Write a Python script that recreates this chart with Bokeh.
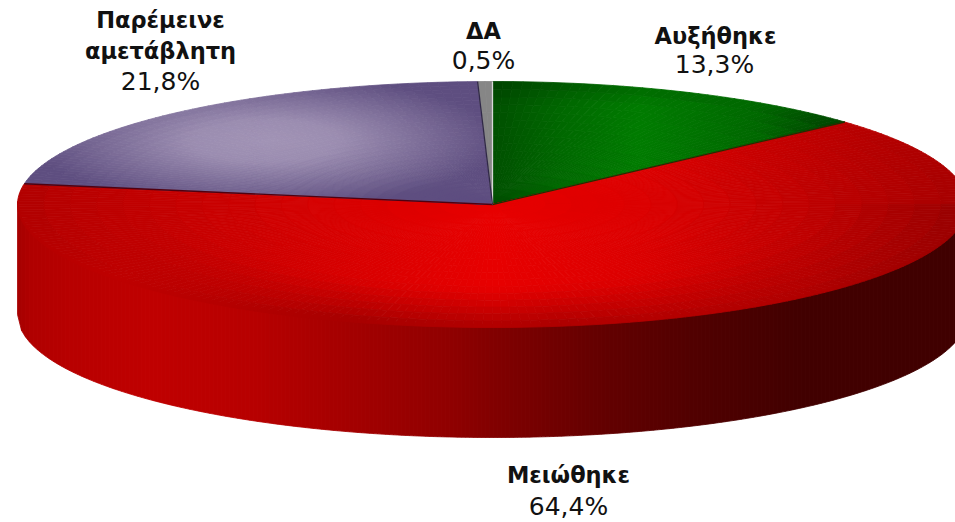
import math
import numpy as np
from bokeh.plotting import figure
from bokeh.models import Range1d, ColumnDataSource
from bokeh.core.properties import value
from bokeh.embed import file_html
from bokeh.resources import INLINE

categories = ["Αυξήθηκε", "Μειώθηκε", "Παρέμεινε αμετάβλητη", "ΔΑ"]
values = [13.3, 64.4, 21.8, 0.5]
value_labels = ["13,3%", "64,4%", "21,8%", "0,5%"]

CX, CY, RX, RY, DEPTH = 492.0, 204.0, 475.0, 123.0, 110.0

p = figure(width=955, height=522, output_backend="svg", toolbar_location=None,
           x_range=Range1d(0, 955), y_range=Range1d(522, 0), min_border=0,
           outline_line_color=None, background_fill_color="white")
p.axis.visible = False
p.grid.visible = False


def hexcol(r, g, b):
    return "#%02x%02x%02x" % (int(max(0, min(255, r))), int(max(0, min(255, g))), int(max(0, min(255, b))))


def col_green(x, y):
    g = np.interp(x, [492, 560, 640, 760, 845], [0x50, 0x68, 0x7c, 0x68, 0x42])
    g *= np.interp(y, [85, 105, 200], [0.85, 1.0, 1.0])
    return hexcol(0, g, 0)


def col_red(x, y):
    r = np.interp(x, [15, 60, 200, 400, 492, 640, 780, 880, 960],
                  [0xb0, 0xb8, 0xc8, 0xde, 0xe8, 0xdc, 0xc4, 0xb4, 0xa8])
    e = ((x - CX) / RX) ** 2 + ((y - CY) / RY) ** 2
    w = np.interp(x, [120, 350, 560, 800], [0.0, 1.0, 1.0, 0.35])
    if y > CY:
        r *= 1 - 0.25 * w * np.interp(e, [0.45, 1.0], [0, 1])
    return hexcol(r, 0, 0)


def col_purple(x, y):
    d = math.hypot((x - 265) / 215, (y - 140) / 60)
    t = np.interp(d, [0, 0.35, 1.1], [1, 0.9, 0])
    return hexcol(0x5e + t * (0xa2 - 0x5e), 0x4e + t * (0x94 - 0x4e), 0x80 + t * (0xb6 - 0x80))


def col_gray(x, y):
    return "#868686"


def col_side(x, y):
    r = np.interp(x, [15, 30, 70, 150, 250, 350, 450, 500, 600, 700, 800, 960],
                  [0xa4, 0xb0, 0xb8, 0xc0, 0xb8, 0xa4, 0x90, 0x80, 0x64, 0x50, 0x42, 0x40])
    return hexcol(r, 0, 0)


wedge_cols = [col_green, col_red, col_purple, col_gray]
wedge_rings = [16, 18, 32, 4]
xs, ys, cs = [], [], []


def ell(theta, frac=1.0):
    return CX + frac * RX * math.sin(theta), CY - frac * RY * math.cos(theta)


# side wall: vertical strips under the front half of the rim
for i in range(0, 240):
    x0 = CX - RX + i * 4.0
    x1 = x0 + 4.0
    lo0 = CY + RY * math.sqrt(max(0, 1 - ((x0 - CX) / RX) ** 2))
    lo1 = CY + RY * math.sqrt(max(0, 1 - ((min(x1, CX + RX) - CX) / RX) ** 2))
    xs.append([x0, x1, x1, x0])
    ys.append([lo0 - 3, lo1 - 3, lo1 + DEPTH, lo0 + DEPTH])
    cs.append(col_side((x0 + x1) / 2, lo0))

# top face: polar mesh of small cells per slice
total = sum(values)
start = 0.0
edges = []
for v, fn, m in zip(values, wedge_cols, wedge_rings):
    a0 = start / total * 2 * math.pi
    a1 = (start + v) / total * 2 * math.pi
    n = max(2, int((a1 - a0) / math.radians(1.2)))
    for i in range(n):
        t0 = a0 + (a1 - a0) * i / n
        t1 = a0 + (a1 - a0) * (i + 1) / n
        for j in range(m):
            f0, f1 = j / m, (j + 1) / m
            pts = [ell(t0, f0), ell(t1, f0), ell(t1, f1), ell(t0, f1)]
            xs.append([q[0] for q in pts])
            ys.append([q[1] for q in pts])
            cx = sum(q[0] for q in pts) / 4
            cy = sum(q[1] for q in pts) / 4
            cs.append(fn(cx, cy))
    edges.append(a0)
    start += v

p.patches("xs", "ys", fill_color="cs", line_color="cs", line_width=0.8,
          source=ColumnDataSource(dict(xs=xs, ys=ys, cs=cs)))

# slice separators
edge_cols = ["#d8d8d8", "#203000", "#500010", "#302848"]
for a, c in zip(edges, edge_cols):
    ex, ey = ell(a)
    p.line([CX, ex], [CY, ey], line_color=c, line_width=1.3)

# labels
FONT = value("DejaVu Sans")
bold_lines = [("Αυξήθηκε", 715, 35), ("Μειώθηκε", 568, 474), ("Παρέμεινε", 160, 19),
              ("αμετάβλητη", 160, 50), ("ΔΑ", 483, 30)]
pct_pos = [(714, 64), (568, 506), (160, 81), (483, 60)]
p.text([b[1] for b in bold_lines], [b[2] for b in bold_lines], text=[b[0] for b in bold_lines],
       text_font=FONT, text_font_style="bold", text_font_size="22.5px", text_color="#111111",
       text_align="center", text_baseline="middle")
p.text([q[0] for q in pct_pos], [q[1] for q in pct_pos], text=value_labels,
       text_font=FONT, text_font_size="25px", text_color="#111111",
       text_align="center", text_baseline="middle")

open("out.html", "w").write(file_html(p, INLINE))
